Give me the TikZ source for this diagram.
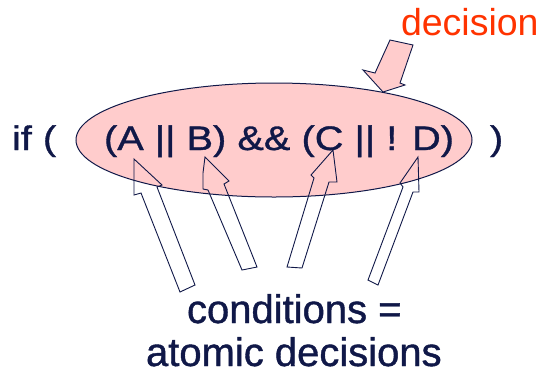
\documentclass[tikz,border=0pt]{standalone}
\usepackage{fontspec}
\setmainfont{Liberation Sans}
\newfontfamily\widefont[FakeStretch=1.17,FakeBold=1]{Liberation Sans}
\newfontfamily\heavyfont[FakeBold=1]{Liberation Sans}
\usetikzlibrary{shapes.geometric}
\definecolor{navy}{RGB}{16,24,72}
\definecolor{pinkfill}{RGB}{255,204,204}
\definecolor{decred}{RGB}{255,51,0}
\begin{document}
\begin{tikzpicture}[x=1pt,y=-1pt,
  txt/.style={inner sep=0pt, outer sep=0pt, anchor=base west, text=navy},
  exprfont/.style={font=\widefont\fontsize{34}{40}\selectfont},
  notefont/.style={font=\heavyfont\fontsize{40}{46}\selectfont},
  ptr/.style={draw=navy, line width=0.9pt, line join=miter}]
\useasboundingbox (0,0) rectangle (545,373);
\node[ellipse, draw=navy, fill=pinkfill, line width=1pt, minimum width=396pt, minimum height=114pt, inner sep=0pt] (expr) at (274,140) {};
\node[txt, exprfont] (if) at (12,150) {if (};
\node[txt, exprfont] (cond) at (104,150) {(A || B) \&\& (C || ! D)};
\node[txt, exprfont] (close) at (490,150) {)};
\node[txt, text=decred, font=\fontsize{37.5}{44}\selectfont] (dec) at (401,35) {decision};
\node[txt, notefont] (l1) at (187,323) {conditions =};
\node[txt, notefont] (l2) at (146,366) {atomic decisions};
% decision arrow
\draw[ptr, fill=pinkfill] (390,40) -- (413,45) -- (400,83) -- (405,85) -- (383,92) -- (363,70) -- (375,73) -- cycle;
% condition arrows
\draw[ptr] (134,159) -- (134,195) -- (141,193) -- (180,292) -- (195,285) -- (157,187) -- (162,185) -- cycle;
\draw[ptr] (205,157) -- (203,173) -- (203,189) -- (208,190) -- (242,270) -- (257,267) -- (224,184) -- (229,181) -- cycle;
\draw[ptr] (333,150) -- (337,182) -- (329,182) -- (302,268) -- (287,267) -- (314,178) -- (311,175) -- cycle;
\draw[ptr] (418,157) -- (419,192) -- (413,192) -- (378,285) -- (368,280) -- (403,187) -- (400,183) -- cycle;
\end{tikzpicture}
\end{document}
